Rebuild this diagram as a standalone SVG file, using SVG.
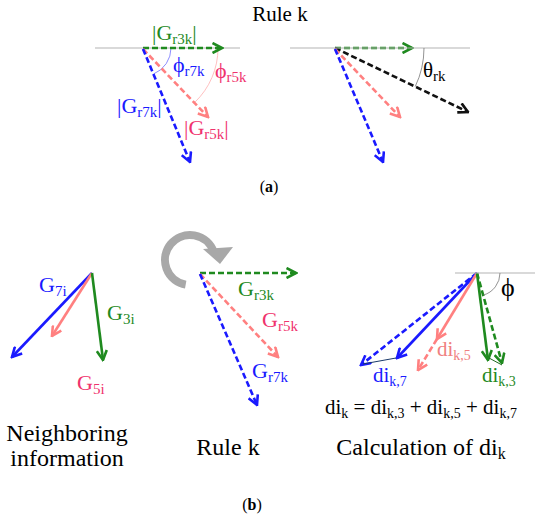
<svg xmlns="http://www.w3.org/2000/svg" width="550" height="519" viewBox="0 0 550 519" font-family="'Liberation Serif', 'DejaVu Serif', serif">
<style>
text{font-family:"Liberation Serif","DejaVu Serif",serif;}
.ax{stroke:#b3b3b3;stroke-width:1;fill:none}
.arc{fill:none;stroke-width:0.8}
.d{fill:none;stroke-width:2.6;stroke-dasharray:6 3}
.s{fill:none;stroke-width:2.6}
.g{stroke:#1f8a1f}.b{stroke:#1a1aff}.p{stroke:#ff8080}.k{stroke:#111}
.tg{fill:#1f8a1f}.tb{fill:#1a1aff}.tp{fill:#f0336e}.ts{fill:#f08080}.tk{fill:#000}
.lab{font-size:22px}
.sub{font-size:15px}
.cap{font-size:24px;fill:#000;text-anchor:middle}
</style>
<defs>
<marker id="ag" viewBox="0 0 12 12" refX="10.5" refY="6" markerWidth="12" markerHeight="12" markerUnits="userSpaceOnUse" orient="auto"><path d="M1,1 L10.5,6 L1,11" fill="none" stroke="#1f8a1f" stroke-width="2.6"/></marker>
<marker id="ab" viewBox="0 0 12 12" refX="10.5" refY="6" markerWidth="12" markerHeight="12" markerUnits="userSpaceOnUse" orient="auto"><path d="M1,1 L10.5,6 L1,11" fill="none" stroke="#1a1aff" stroke-width="2.6"/></marker>
<marker id="ap" viewBox="0 0 12 12" refX="10.5" refY="6" markerWidth="12" markerHeight="12" markerUnits="userSpaceOnUse" orient="auto"><path d="M1,1 L10.5,6 L1,11" fill="none" stroke="#ff8080" stroke-width="2.6"/></marker>
<marker id="ak" viewBox="0 0 12 12" refX="10.5" refY="6" markerWidth="12" markerHeight="12" markerUnits="userSpaceOnUse" orient="auto"><path d="M1,1 L10.5,6 L1,11" fill="none" stroke="#111" stroke-width="2.6"/></marker>
</defs>

<text x="280" y="21" font-size="21" text-anchor="middle" class="tk">Rule k</text>

<!-- panel a left -->
<g id="a-left">
<line class="ax" x1="95" y1="48" x2="240" y2="48"/>
<path class="arc" stroke="#6f6fff" d="M171,48 A28,28 0 0 1 153.7,73.9"/>
<path class="arc" stroke="#ffb0b0" d="M218,48 A75,75 0 0 1 194.8,102.3"/>
</g>
<g id="connectors">
<line class="d g" x1="143" y1="48" x2="222" y2="48" marker-end="url(#ag)"/>
<line class="d p" x1="143" y1="49" x2="208" y2="117" marker-end="url(#ap)"/>
<line class="d b" x1="143" y1="49" x2="190" y2="162" marker-end="url(#ab)"/>

<line class="d g" x1="335" y1="48" x2="412" y2="48" marker-end="url(#ag)"/>
<line class="d k" x1="335" y1="48" x2="468" y2="112" marker-end="url(#ak)"/>
<line class="d p" x1="335" y1="49" x2="400" y2="117" marker-end="url(#ap)"/>
<line class="d b" x1="335" y1="49" x2="383" y2="162" marker-end="url(#ab)"/>

<line class="s b" x1="92" y1="273" x2="12" y2="357" marker-end="url(#ab)"/>
<line class="s p" x1="92" y1="273" x2="52" y2="336" marker-end="url(#ap)"/>
<line class="s g" x1="92" y1="273" x2="103" y2="360" marker-end="url(#ag)"/>

<line class="d g" x1="200" y1="273" x2="296" y2="273" marker-end="url(#ag)"/>
<line class="d p" x1="200" y1="274" x2="278" y2="357" marker-end="url(#ap)"/>
<line class="d b" x1="200" y1="274" x2="257" y2="405" marker-end="url(#ab)"/>

<line class="d b" x1="477" y1="273" x2="361" y2="365" marker-end="url(#ab)"/>
<line class="s b" x1="477" y1="273" x2="397" y2="358" marker-end="url(#ab)"/>
<line x1="363" y1="364" x2="396" y2="358" stroke="#1a3a6a" stroke-width="1"/>
<line class="s p" x1="477" y1="273" x2="437" y2="339" marker-end="url(#ap)"/>
<line class="d p" x1="437" y1="339" x2="418" y2="370" marker-end="url(#ap)"/>
<line class="s g" x1="477" y1="273" x2="488" y2="360" marker-end="url(#ag)"/>
<line class="d g" x1="477" y1="273" x2="502" y2="363" marker-end="url(#ag)"/>
<line x1="489" y1="358" x2="502" y2="365" stroke="#1f6a1f" stroke-width="1"/>
</g>

<g id="a-left-labels" class="lab">
<text x="152" y="40" class="tg">|G<tspan class="sub" dy="4">r3k</tspan><tspan dy="-4">|</tspan></text>
<text x="173" y="72" class="tb">ϕ<tspan class="sub" dy="4">r7k</tspan></text>
<text x="215" y="78" class="tp">ϕ<tspan class="sub" dy="4">r5k</tspan></text>
<text x="117" y="113" class="tb">|G<tspan class="sub" dy="4">r7k</tspan><tspan dy="-4">|</tspan></text>
<text x="184" y="135" class="tp">|G<tspan class="sub" dy="4">r5k</tspan><tspan dy="-4">|</tspan></text>
</g>

<g id="a-right">
<line class="ax" x1="290" y1="48" x2="470" y2="48"/>
<path class="arc" stroke="#777" d="M424,48 A89,89 0 0 1 415.2,86.6"/>
<text x="423" y="77" font-size="21" class="tk">θ<tspan class="sub" dy="4">rk</tspan></text>
</g>

<text x="269" y="192" font-size="16" text-anchor="middle" class="tk">(<tspan font-weight="bold">a</tspan>)</text>

<!-- panel b -->
<g id="b-left" class="lab">
<text x="39" y="292" class="tb">G<tspan class="sub" dy="4">7i</tspan></text>
<text x="107" y="320" class="tg">G<tspan class="sub" dy="4">3i</tspan></text>
<text x="77" y="390" class="tp">G<tspan class="sub" dy="4">5i</tspan></text>
</g>

<g id="b-middle">
<path d="M185.7,284.6 A25,25 0 1 1 213.5,251.4" fill="none" stroke="#a8a8a8" stroke-width="8"/>
<polygon points="203,249 233,247 220,264" fill="#a8a8a8"/>
<g class="lab">
<text x="238" y="296" class="tg">G<tspan class="sub" dy="4">r3k</tspan></text>
<text x="262" y="327" class="tp">G<tspan class="sub" dy="4">r5k</tspan></text>
<text x="252" y="378" class="tb">G<tspan class="sub" dy="4">r7k</tspan></text>
</g>
</g>

<g id="b-right">
<line class="ax" x1="455" y1="273" x2="535" y2="273"/>
<path class="arc" stroke="#777" d="M500,273 A23,23 0 0 1 483.3,295.1"/>
<text x="501" y="296" font-size="26" class="tk">ϕ</text>
<g font-size="21px">
<text x="437" y="356" class="ts">di<tspan font-size="14" dy="4">k,5</tspan></text>
<text x="373" y="382" class="tb">di<tspan font-size="14" dy="4">k,7</tspan></text>
<text x="482" y="382" class="tg">di<tspan font-size="14" dy="4">k,3</tspan></text>
<text x="325" y="414" class="tk">di<tspan font-size="14" dy="4">k</tspan><tspan dy="-4"> = di</tspan><tspan font-size="14" dy="4">k,3</tspan><tspan dy="-4"> + di</tspan><tspan font-size="14" dy="4">k,5</tspan><tspan dy="-4"> + di</tspan><tspan font-size="14" dy="4">k,7</tspan></text>
</g>
</g>

<g id="captions">
<text x="67" y="441" class="cap">Neighboring</text>
<text x="67" y="466" class="cap">information</text>
<text x="228" y="455" class="cap">Rule k</text>
<text x="421" y="455" class="cap" font-size="25">Calculation of di<tspan font-size="16" dy="4">k</tspan></text>
<text x="252" y="510" font-size="16" text-anchor="middle" class="tk">(<tspan font-weight="bold">b</tspan>)</text>
</g>
</svg>
